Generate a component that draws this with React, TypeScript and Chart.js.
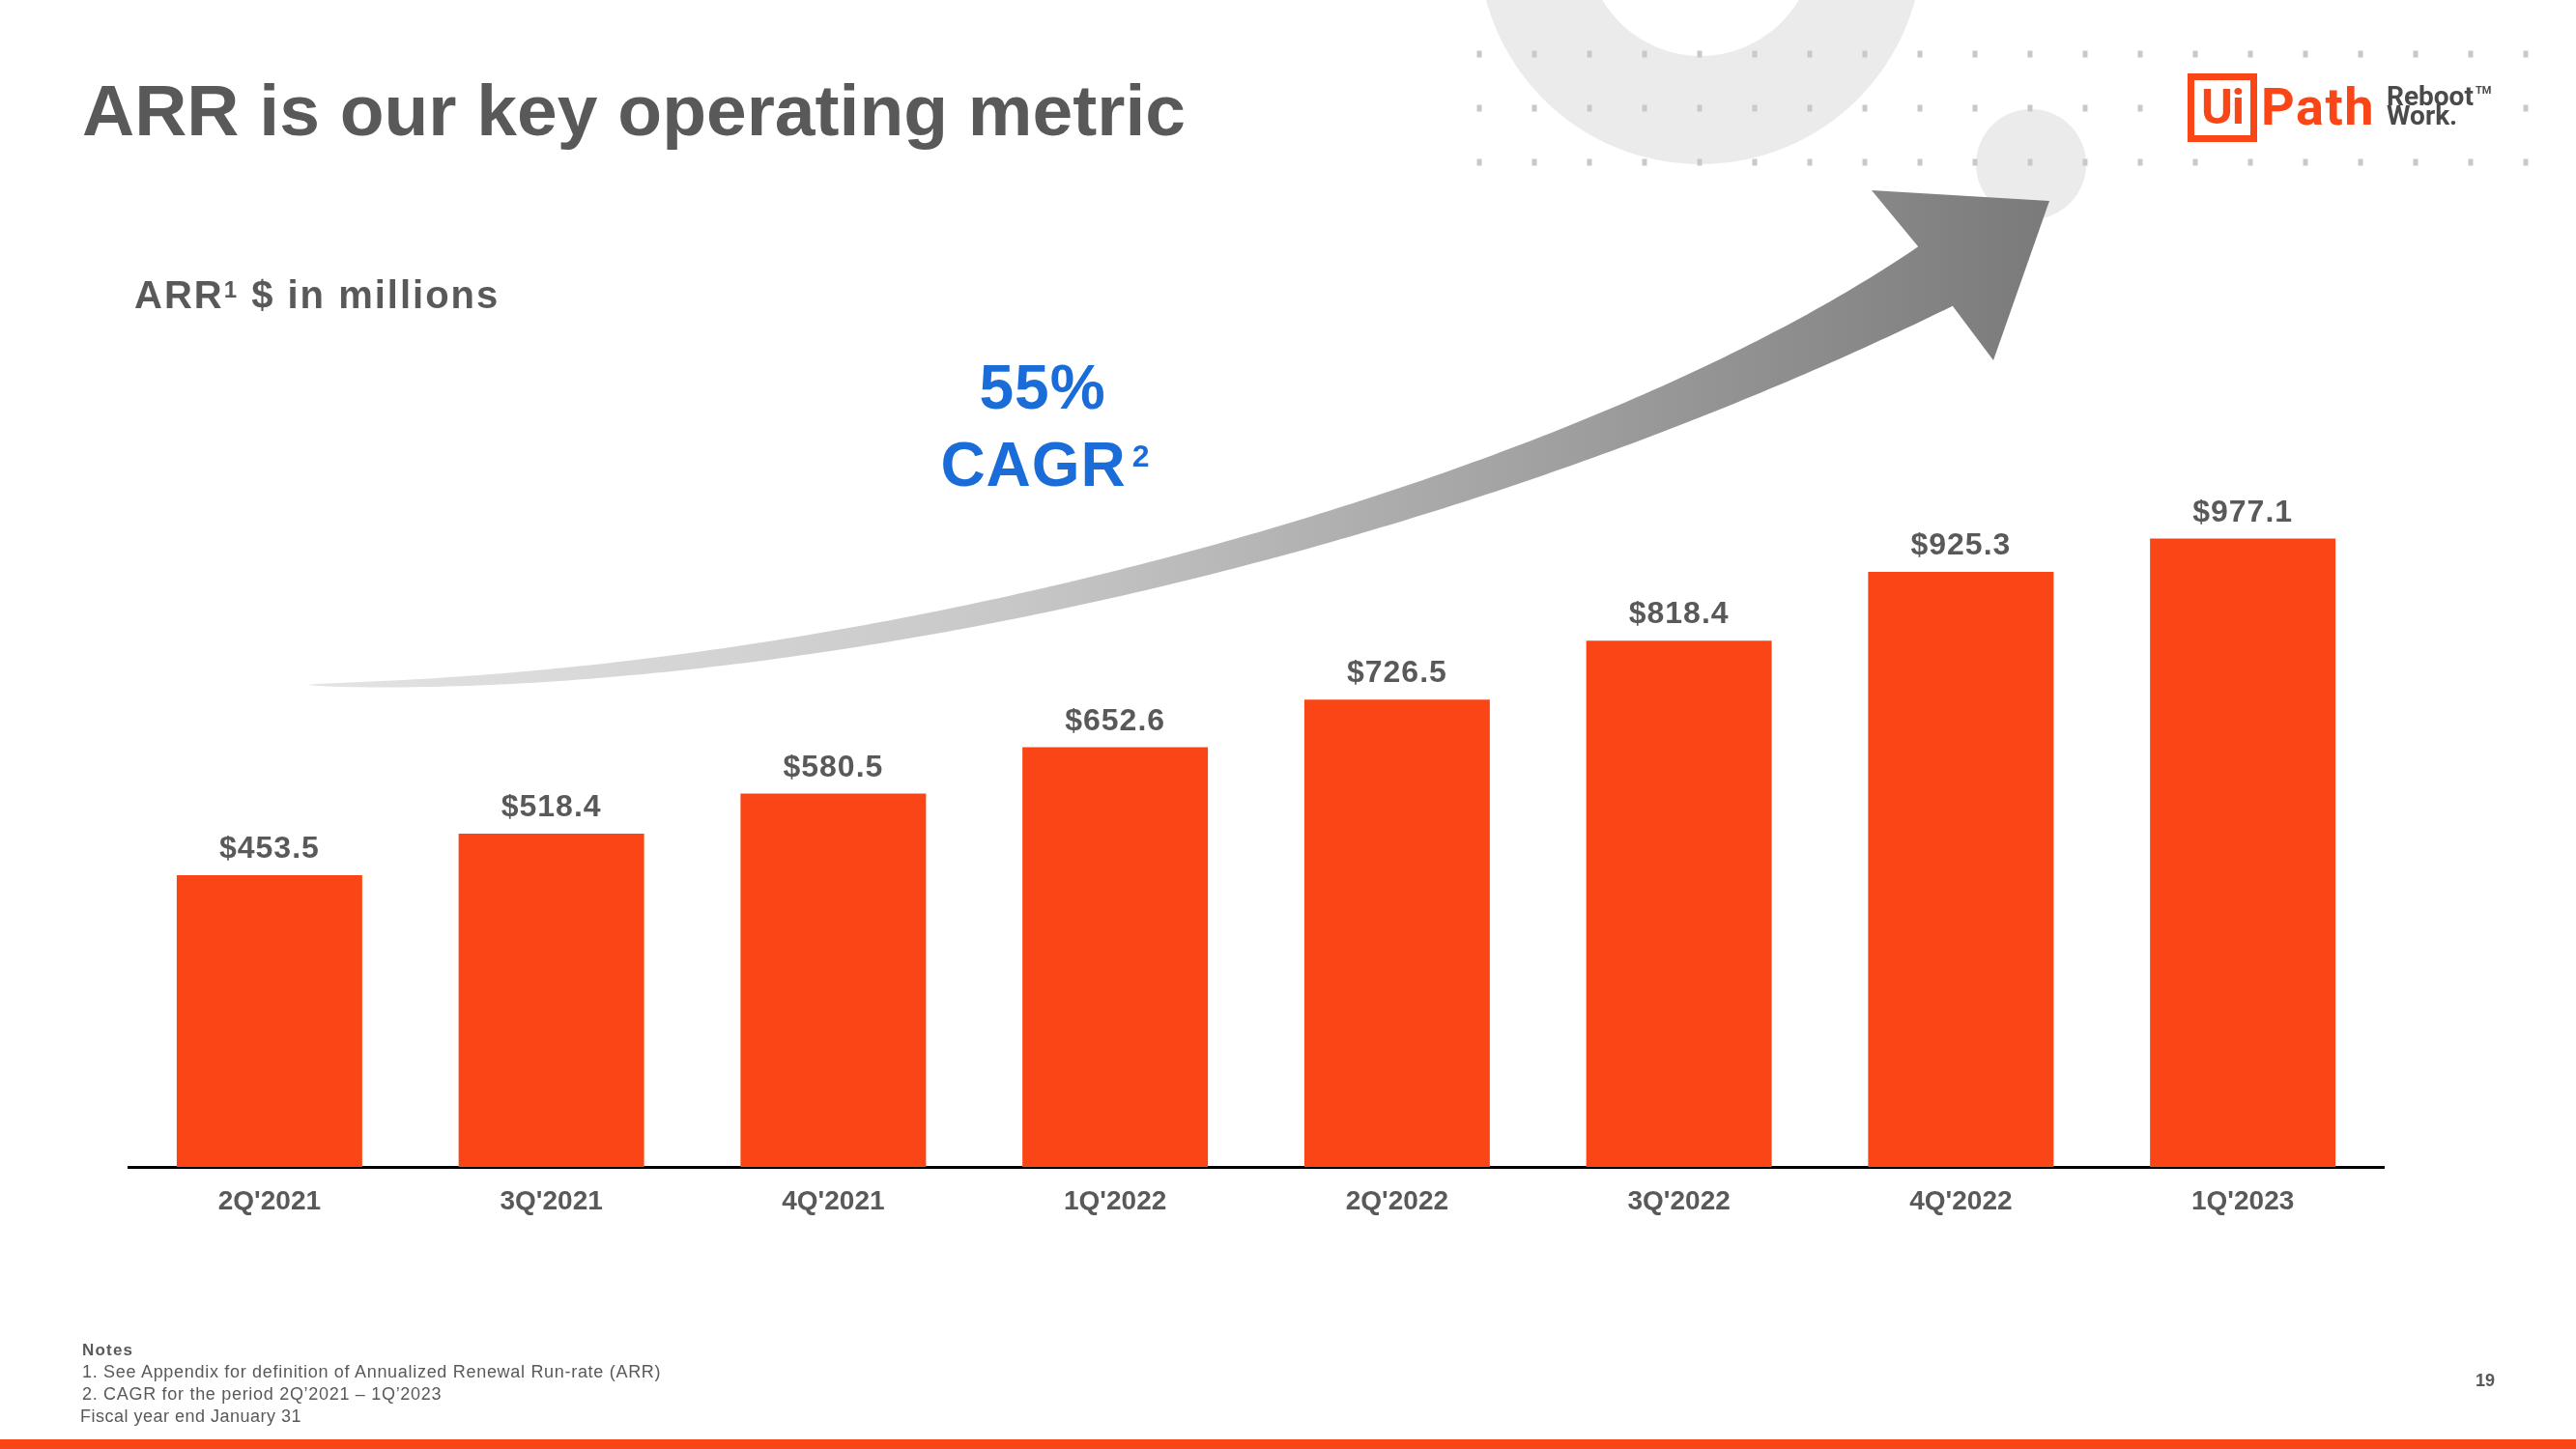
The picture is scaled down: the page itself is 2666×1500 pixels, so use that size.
import React, { useEffect, useRef } from 'react';
import { Chart, registerables } from 'chart.js';

Chart.register(...registerables);

// ---- data ----
const categories = ["2Q'2021", "3Q'2021", "4Q'2021", "1Q'2022", "2Q'2022", "3Q'2022", "4Q'2022", "1Q'2023"];
const arrValues = [453.5, 518.4, 580.5, 652.6, 726.5, 818.4, 925.3, 977.1];
const valueLabels = arrValues.map((v) => `$${v.toFixed(1)}`);
const yMin = 0;
const yMax = 1400;

const ORANGE = '#FA4616';
const GRAY_TEXT = '#595959';
const FONT = '"Liberation Sans", Arial, Helvetica, sans-serif';

// baseline helper: for line-height 1 text, top offset from baseline
const topFor = (baseline: number, size: number) => baseline - 0.8465 * size;

const decorPlugin = {
  id: 'decor',
  beforeDraw(chart: any) {
    const ctx: CanvasRenderingContext2D = chart.ctx;
    ctx.save();
    // background ring
    ctx.fillStyle = '#ebebeb';
    ctx.beginPath();
    ctx.moveTo(1760 + 230, -60);
    ctx.arc(1760, -60, 230, 0, Math.PI * 2);
    ctx.moveTo(1760 + 118, -60);
    ctx.arc(1760, -60, 118, 0, Math.PI * 2);
    ctx.fill('evenodd');
    // small circle
    ctx.beginPath();
    ctx.arc(2102, 170, 57, 0, Math.PI * 2);
    ctx.fill();
    // dots
    ctx.fillStyle = '#c9c9c9';
    const rows = [56, 112, 168];
    rows.forEach((y, r) => {
      for (let k = 0; k < 20; k++) {
        const x = 1531 + 57 * k;
        if (r === 1 && x > 2240 && x < 2590) continue;
        ctx.fillRect(x - 2.5, y - 3.5, 5, 7);
      }
    });

    // curved arrow
    const P = [
      [318, 709],
      [900, 712],
      [1600, 520],
      [2003, 286],
    ];
    const bez = (t: number) => {
      const u = 1 - t;
      const a = u * u * u, b = 3 * u * u * t, c = 3 * u * t * t, d = t * t * t;
      return [
        a * P[0][0] + b * P[1][0] + c * P[2][0] + d * P[3][0],
        a * P[0][1] + b * P[1][1] + c * P[2][1] + d * P[3][1],
      ];
    };
    const der = (t: number) => {
      const u = 1 - t;
      return [
        3 * u * u * (P[1][0] - P[0][0]) + 6 * u * t * (P[2][0] - P[1][0]) + 3 * t * t * (P[3][0] - P[2][0]),
        3 * u * u * (P[1][1] - P[0][1]) + 6 * u * t * (P[2][1] - P[1][1]) + 3 * t * t * (P[3][1] - P[2][1]),
      ];
    };
    const N = 160;
    const up: number[][] = [];
    const lo: number[][] = [];
    for (let i = 0; i <= N; i++) {
      const t = i / N;
      const p = bez(t);
      const d = der(t);
      const len = Math.hypot(d[0], d[1]);
      const nx = d[1] / len, ny = -d[0] / len;
      const w = 42 * Math.pow(t, 0.6) + 29 * Math.pow(t, 6);
      up.push([p[0] + (nx * w) / 2, p[1] + (ny * w) / 2]);
      lo.push([p[0] - (nx * w) / 2, p[1] - (ny * w) / 2]);
    }
    const grad = ctx.createLinearGradient(318, 0, 2121, 0);
    grad.addColorStop(0, '#e4e4e4');
    grad.addColorStop(0.4, '#c8c8c8');
    grad.addColorStop(0.7, '#a2a2a2');
    grad.addColorStop(1, '#7a7a7a');
    ctx.fillStyle = grad;
    ctx.beginPath();
    ctx.moveTo(up[0][0], up[0][1]);
    for (let i = 1; i <= N; i++) ctx.lineTo(up[i][0], up[i][1]);
    ctx.lineTo(1937, 197);
    ctx.lineTo(2121, 208);
    ctx.lineTo(2063, 373);
    for (let i = N; i >= 0; i--) ctx.lineTo(lo[i][0], lo[i][1]);
    ctx.closePath();
    ctx.fill();

    // bottom orange strip
    ctx.fillStyle = ORANGE;
    ctx.fillRect(0, 1490, chart.width, 10);
    ctx.restore();
  },
};

const valueLabelPlugin = {
  id: 'valueLabels',
  afterDatasetsDraw(chart: any) {
    const ctx: CanvasRenderingContext2D = chart.ctx;
    const meta = chart.getDatasetMeta(0);
    ctx.save();
    ctx.font = `bold 32px ${FONT}`;
    ctx.fillStyle = GRAY_TEXT;
    ctx.textAlign = 'center';
    ctx.textBaseline = 'alphabetic';
    (ctx as any).letterSpacing = '1px';
    meta.data.forEach((bar: any, i: number) => {
      ctx.fillText(valueLabels[i], bar.x, bar.y - 18);
    });
    ctx.restore();
  },
};

export default function App() {
  const canvasRef = useRef<HTMLCanvasElement | null>(null);

  useEffect(() => {
    if (!canvasRef.current) return;
    const chart = new Chart(canvasRef.current, {
      type: 'bar',
      data: {
        labels: categories,
        datasets: [
          {
            label: 'ARR',
            data: arrValues,
            backgroundColor: ORANGE,
            borderWidth: 0,
            categoryPercentage: 1,
            barPercentage: 0.658,
          },
        ],
      },
      options: {
        responsive: false,
        animation: false,
        events: [],
        layout: { padding: { left: 133, right: 199, top: 276, bottom: 192 } },
        plugins: {
          legend: { display: false },
          tooltip: { enabled: false },
          title: { display: false },
        },
        scales: {
          x: {
            grid: { display: false, drawTicks: false },
            border: { display: true, color: '#000000', width: 3 },
            ticks: {
              color: GRAY_TEXT,
              padding: 19,
              font: { family: FONT, size: 28, weight: 'bold' },
            },
            afterFit: (scale: any) => {
              scale.height = 100;
            },
          },
          y: {
            display: false,
            min: yMin,
            max: yMax,
          },
        },
      },
      plugins: [decorPlugin, valueLabelPlugin],
    });
    return () => chart.destroy();
  }, []);

  const abs = (s: React.CSSProperties): React.CSSProperties => ({
    position: 'absolute',
    lineHeight: 1,
    whiteSpace: 'nowrap',
    margin: 0,
    ...s,
  });

  return (
    <div
      style={{
        position: 'absolute',
        left: 0,
        top: 0,
        width: 2666,
        height: 1500,
        background: '#ffffff',
        overflow: 'hidden',
        fontFamily: FONT,
        color: GRAY_TEXT,
      }}
    >
      <canvas ref={canvasRef} width={2666} height={1500} style={{ position: 'absolute', left: 0, top: 0 }} />

      {/* Title */}
      <div style={abs({ left: 85, top: topFor(140, 75), fontSize: 75, fontWeight: 'bold', letterSpacing: 0 })}>
        ARR is our key operating metric
      </div>

      {/* Subtitle */}
      <div style={abs({ left: 139, top: topFor(319, 40), fontSize: 40, fontWeight: 'bold', letterSpacing: 2 })}>
        ARR<span style={{ fontSize: 24, position: 'relative', top: -11 }}>1</span> $ in millions
      </div>

      {/* CAGR callout */}
      <div
        style={abs({
          left: 879,
          width: 400,
          textAlign: 'center',
          top: topFor(423, 64),
          fontSize: 64,
          fontWeight: 'bold',
          letterSpacing: 1,
          color: '#1A6DD8',
        })}
      >
        55%
      </div>
      <div
        style={abs({
          left: 882,
          width: 400,
          textAlign: 'center',
          top: topFor(503, 64),
          fontSize: 64,
          fontWeight: 'bold',
          letterSpacing: 1,
          color: '#1A6DD8',
        })}
      >
        CAGR<span style={{ fontSize: 32, position: 'relative', top: -20, marginLeft: 6 }}>2</span>
      </div>

      {/* Logo */}
      <div
        style={{
          position: 'absolute',
          left: 2264,
          top: 76,
          width: 72,
          height: 71,
          border: `7px solid ${ORANGE}`,
          boxSizing: 'border-box',
        }}
      />
      <div
        style={abs({
          left: 2264,
          width: 72,
          textAlign: 'center',
          top: topFor(128, 50),
          fontSize: 50,
          fontWeight: 'bold',
          color: ORANGE,
          fontFamily: 'Roboto, "Liberation Sans", sans-serif',
          letterSpacing: -1,
        })}
      >
        Ui
      </div>
      <div
        style={abs({
          left: 2340,
          top: topFor(130, 54),
          fontSize: 54,
          fontWeight: 'bold',
          color: ORANGE,
          fontFamily: 'Roboto, "Liberation Sans", sans-serif',
          letterSpacing: 1.5,
        })}
      >
        Path
      </div>
      <div
        style={abs({
          left: 2470,
          top: topFor(110, 28),
          fontSize: 28,
          fontWeight: 'bold',
          color: '#4a4a4a',
          fontFamily: 'Roboto, "Liberation Sans", sans-serif',
          letterSpacing: 0,
        })}
      >
        Reboot<span style={{ fontSize: 11, position: 'relative', top: -12, marginLeft: 2 }}>TM</span>
      </div>
      <div
        style={abs({
          left: 2470,
          top: topFor(130, 28),
          fontSize: 28,
          fontWeight: 'bold',
          color: '#4a4a4a',
          fontFamily: 'Roboto, "Liberation Sans", sans-serif',
          letterSpacing: 0,
        })}
      >
        Work.
      </div>

      {/* Notes */}
      <div style={abs({ left: 85, top: topFor(1403, 17), fontSize: 17, fontWeight: 'bold', letterSpacing: 1.2 })}>
        Notes
      </div>
      <div style={abs({ left: 85, top: topFor(1426, 18), fontSize: 18, letterSpacing: 0.7 })}>
        1. See Appendix for definition of Annualized Renewal Run-rate (ARR)
      </div>
      <div style={abs({ left: 85, top: topFor(1449, 18), fontSize: 18, letterSpacing: 0.7 })}>
        2. CAGR for the period 2Q’2021 – 1Q’2023
      </div>
      <div style={abs({ left: 83, top: topFor(1472, 18), fontSize: 18, letterSpacing: 0.5 })}>
        Fiscal year end January 31
      </div>

      {/* Page number */}
      <div style={abs({ left: 2562, top: topFor(1435, 18), fontSize: 18, fontWeight: 'bold' })}>19</div>
    </div>
  );
}
